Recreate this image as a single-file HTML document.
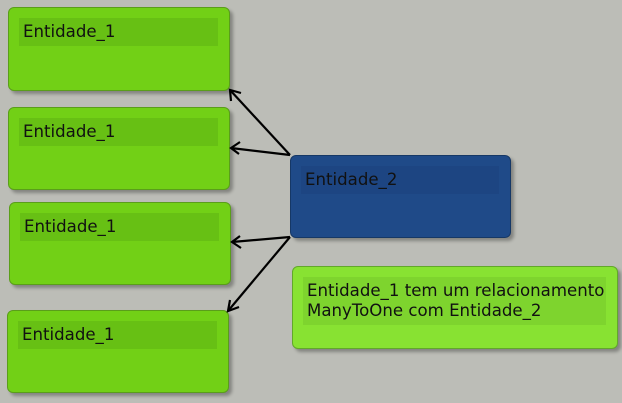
<!DOCTYPE html>
<html><head><style>
body{margin:0;width:622px;height:403px;background:#bcbdb7;position:relative;overflow:hidden;font-family:"DejaVu Sans","Liberation Sans",sans-serif;font-size:16.6px;color:#111}
.b{position:absolute;border-radius:6px;box-shadow:3px 3px 3px rgba(0,0,0,0.3);box-sizing:border-box}
.g{background:#72d016;border:1px solid #5a9e1a}
.bl{background:#1f4a88;border:1px solid #163866}
.n{background:#88e232;border:1px solid #62a82a}
.h{position:absolute;left:10px;right:11px;top:10px;height:28px;line-height:28px;padding-left:4px}
.g .h{background:#67c014}
.bl .h{background:#1d4582}
.n .h{background:#7ed42e;line-height:20px;height:48px;padding-top:4px;box-sizing:border-box}
</style></head><body>
<div class="b g" style="left:8px;top:7px;width:222px;height:84px"><div class="h">Entidade_1</div></div>
<div class="b g" style="left:8px;top:107px;width:222px;height:83px"><div class="h">Entidade_1</div></div>
<div class="b g" style="left:9px;top:202px;width:222px;height:83px"><div class="h">Entidade_1</div></div>
<div class="b g" style="left:7px;top:310px;width:222px;height:83px"><div class="h">Entidade_1</div></div>
<div class="b bl" style="left:290px;top:155px;width:221px;height:83px"><div class="h">Entidade_2</div></div>
<div class="b n" style="left:292px;top:266px;width:326px;height:83px"><div class="h">Entidade_1 tem um relacionamento<br>ManyToOne com Entidade_2</div></div>
<svg width="622" height="403" style="position:absolute;left:0;top:0" fill="none" stroke="#000" stroke-width="2.2">
<line x1="290" y1="155" x2="230" y2="90"/><polyline points="231,101 230,90 241,93"/>
<line x1="290" y1="155" x2="231" y2="148"/><polyline points="240,142 231,148 239,154"/>
<line x1="290" y1="237" x2="232" y2="242"/><polyline points="240,236 232,242 241,248"/>
<line x1="290" y1="237" x2="228" y2="311"/><polyline points="230,300 228,311 239,307"/>
</svg>
</body></html>
